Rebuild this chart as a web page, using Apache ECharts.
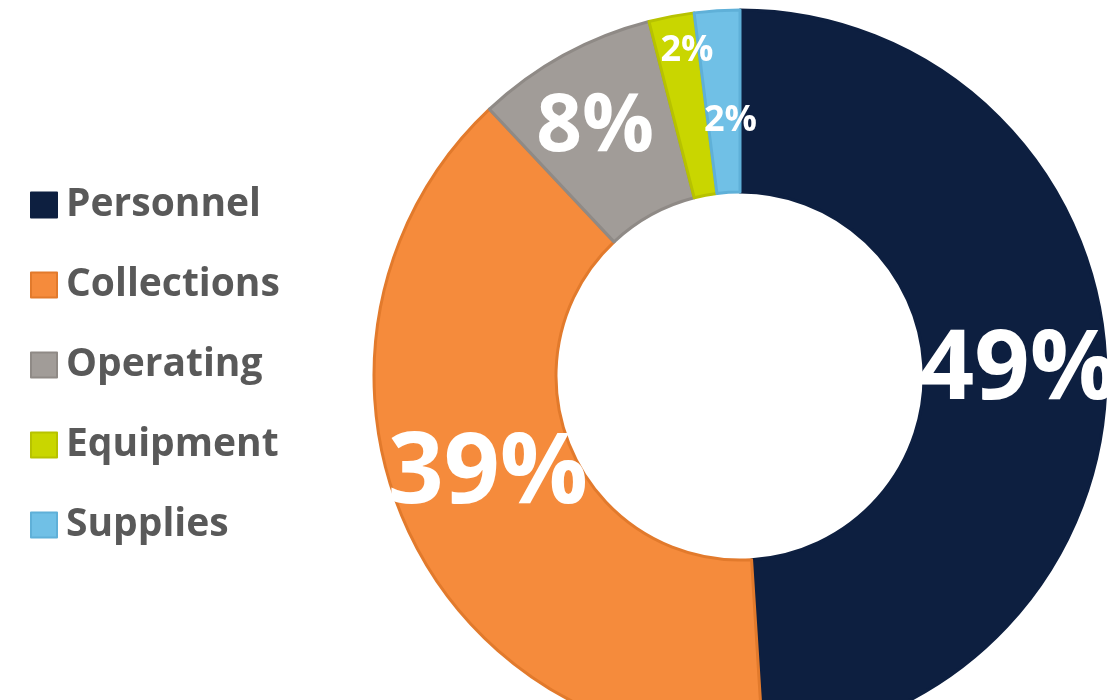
<!DOCTYPE html>
<html>
<head>
<meta charset="utf-8">
<script src="https://cdn.jsdelivr.net/npm/echarts@6/dist/echarts.min.js"></script>
<style>
html,body{margin:0;padding:0;background:#fff;}
#chart{width:1114px;height:700px;}
</style>
</head>
<body>
<div id="chart"></div>
<script>
// Data
var categories = ['Personnel', 'Collections', 'Operating', 'Equipment', 'Supplies'];
var values = [49, 39, 8, 2, 2];

// Styles
var palette = ['#0d1f40', '#f58b3c', '#a19c98', '#c9d600', '#70c0e6'];
var borders = ['#0d1f40', '#e27a2c', '#8f8a86', '#b7c200', '#5fb0d8'];
var labelSizes = [97, 98, 80, 36, 36];
var labelOffsets = [[0, 4], [3, -11], [-11, -4], [-1, -52], [8, 22]];

var data = categories.map(function (name, i) {
  return {
    name: name,
    value: values[i],
    itemStyle: { color: palette[i], borderColor: borders[i], borderWidth: 3 },
    label: { fontSize: labelSizes[i], offset: labelOffsets[i] }
  };
});

var chart = echarts.init(document.getElementById('chart'), null, { renderer: 'canvas' });
chart.setOption({
  animation: false,
  backgroundColor: '#ffffff',
  legend: {
    orient: 'vertical',
    left: 25,
    top: 180,
    itemWidth: 26,
    itemHeight: 25,
    itemGap: 40,
    icon: 'rect',
    data: categories,
    textStyle: {
      fontFamily: 'Open Sans',
      fontWeight: 'bold',
      fontSize: 39,
      lineHeight: 40,
      color: '#595959',
      padding: [0, 0, 0, 4]
    }
  },
  series: [{
    type: 'pie',
    center: [740, 376],
    radius: [184, 366],
    startAngle: 90,
    clockwise: true,
    avoidLabelOverlap: false,
    label: {
      show: true,
      position: 'inside',
      formatter: '{c}%',
      color: '#ffffff',
      fontFamily: 'Open Sans',
      fontWeight: 'bold'
    },
    labelLine: { show: false },
    emphasis: { disabled: true },
    data: data
  }]
});
</script>
</body>
</html>
